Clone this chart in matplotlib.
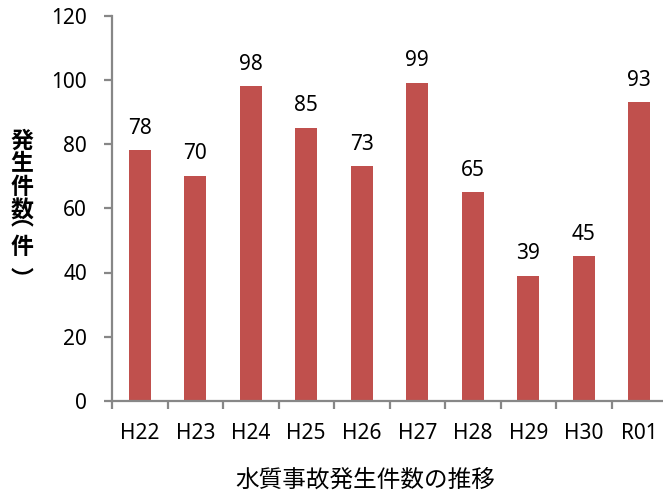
import matplotlib
matplotlib.use("Agg")
import matplotlib.pyplot as plt
import numpy as np

categories = ["H22", "H23", "H24", "H25", "H26", "H27", "H28", "H29", "H30", "R01"]
values = [78, 70, 98, 85, 73, 99, 65, 39, 45, 93]
yticks = [0, 20, 40, 60, 80, 100, 120]
ylabel_chars = ["発", "生", "件", "数", "︵", "件", "︶"]
xlabel = "水質事故発生件数の推移"

plt.rcParams['font.family'] = ['Noto Sans', 'Noto Sans CJK JP', 'DejaVu Sans']
CJK = ['Noto Sans CJK JP', 'DejaVu Sans']

W, H = 663, 495
fig = plt.figure(figsize=(W / 100, H / 100), dpi=100)
ax = fig.add_axes([112 / W, 1 - 401 / H, (667 - 112) / W, (401 - 15.5) / H])

x = np.arange(len(categories))
bar_color = "#C0504D"
ax.bar(x, values, width=0.4, color=bar_color, zorder=2)

for xi, v in zip(x, values):
    ax.annotate(str(v), (xi, v), xytext=(0, 12), textcoords="offset points",
                ha="center", va="baseline", fontsize=15, color="#000000")

ax.set_xlim(-0.5, len(categories) - 0.5)
ax.set_ylim(0, 120)
ax.set_yticks(yticks)
ax.set_yticklabels([str(t) for t in yticks], fontsize=15)
ax.set_xticks(x)
ax.set_xticklabels(categories, fontsize=15)
ax.set_xticks(np.arange(len(categories) + 1) - 0.5, minor=True)

spine_color = "#878787"
for s in ["top", "right"]:
    ax.spines[s].set_visible(False)
for s in ["left", "bottom"]:
    ax.spines[s].set_color(spine_color)
    ax.spines[s].set_linewidth(1.6)

ax.tick_params(axis="y", which="major", direction="out", length=6, width=1.6,
               color=spine_color, pad=12)
ax.tick_params(axis="x", which="major", length=0, pad=16)
ax.tick_params(axis="x", which="minor", direction="out", length=6, width=1.6,
               color=spine_color)

# y label, stacked vertically (vertical-form parentheses)
ys = [141, 164, 188, 211, 218, 248, 280]
for ch, yy in zip(ylabel_chars, ys):
    fig.text(22 / W, 1 - yy / H, ch, ha="center", va="center",
             fontsize=16.5, fontweight="bold", family=CJK)

fig.text(365 / W, 1 - 480 / H, xlabel, ha="center", va="center", fontsize=17,
         family=CJK)

fig.savefig("out.png", dpi=100)
